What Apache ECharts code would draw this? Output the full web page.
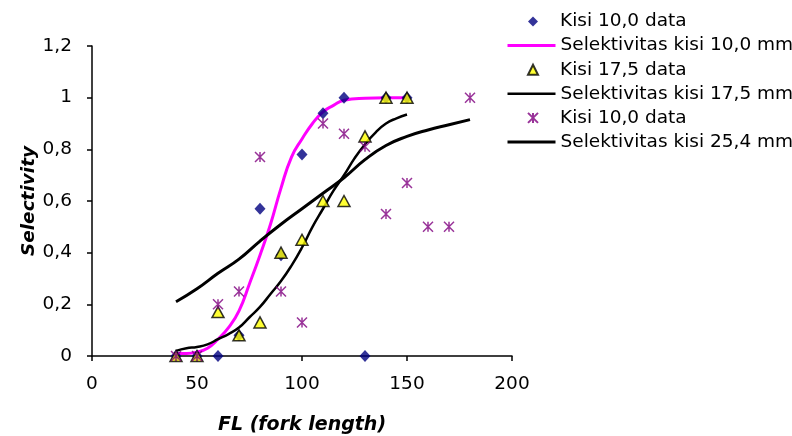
<!DOCTYPE html>
<html>
<head>
<meta charset="utf-8">
<script src="https://cdn.jsdelivr.net/npm/echarts@6/dist/echarts.min.js"></script>
<style>
html,body{margin:0;padding:0;background:#fff;}
#chart{width:792px;height:436px;}
</style>
</head>
<body>
<div id="chart"></div>
<script>
// ---- data ----
const seriesNames = ['Kisi 10,0 data', 'Selektivitas kisi 10,0 mm', 'Kisi 17,5 data', 'Selektivitas kisi 17,5 mm', 'Kisi 10,0 data ', 'Selektivitas kisi 25,4 mm'];

const data10x = [40, 50, 60, 70, 80, 90, 100, 110, 120, 130, 140, 150];
const data10y = [0, 0, 0, 0.08, 0.57, 0.39, 0.78, 0.94, 1.0, 0, 1.0, 1.0];

const data175x = [40, 50, 60, 70, 80, 90, 100, 110, 120, 130, 140, 150];
const data175y = [0, 0, 0.17, 0.08, 0.13, 0.40, 0.45, 0.60, 0.60, 0.85, 1.0, 1.0];

const data254x = [40, 50, 60, 70, 80, 90, 100, 110, 120, 130, 140, 150, 160, 170, 180];
const data254y = [0, 0, 0.20, 0.25, 0.77, 0.25, 0.13, 0.90, 0.86, 0.81, 0.55, 0.67, 0.50, 0.50, 1.0];

const curve10x = [40, 45, 50, 55, 60, 65, 70, 75, 80, 85, 90, 95, 100, 105, 110, 115, 120, 130, 140, 150];
const curve10y = [0.01, 0.01, 0.015, 0.03, 0.065, 0.11, 0.175, 0.28, 0.39, 0.51, 0.65, 0.77, 0.84, 0.90, 0.945, 0.97, 0.99, 0.998, 1.0, 1.0];

const curve175x = [40, 45, 50, 55, 60, 65, 70, 75, 80, 85, 90, 95, 100, 105, 110, 115, 120, 125, 130, 135, 140, 145, 150];
const curve175y = [0.02, 0.03, 0.035, 0.045, 0.065, 0.085, 0.11, 0.15, 0.19, 0.24, 0.29, 0.35, 0.42, 0.50, 0.57, 0.64, 0.70, 0.765, 0.82, 0.865, 0.90, 0.92, 0.935];

const curve254x = [40, 50, 60, 70, 80, 90, 100, 110, 120, 130, 140, 150, 160, 170, 180];
const curve254y = [0.21, 0.26, 0.32, 0.375, 0.445, 0.51, 0.57, 0.63, 0.69, 0.76, 0.815, 0.85, 0.875, 0.895, 0.915];

const xTicks = [0, 50, 100, 150, 200];
const yTickLabels = ['0', '0,2', '0,4', '0,6', '0,8', '1', '1,2'];

// ---- helpers ----
function pairs(xs, ys) { return xs.map((x, i) => [x, ys[i]]); }

const FONT = 'DejaVu Sans';
const axisLineStyle = { color: '#000', width: 1.5 };
const legendText = { fontFamily: FONT, fontSize: 18.5, color: '#000', lineHeight: 20 };

const chart = echarts.init(document.getElementById('chart'), null, { renderer: 'canvas' });
chart.setOption({
  animation: false,
  backgroundColor: '#fff',
  textStyle: { fontFamily: FONT },
  grid: { left: 92, top: 46, width: 420, height: 310, containLabel: false, outerBoundsMode: 'none' },
  legend: [
    {
      orient: 'vertical',
      left: 527,
      top: 11.5,
      padding: 0,
      itemWidth: 10,
      itemHeight: 10,
      itemGap: 28.2,
      selectedMode: false,
      data: [seriesNames[0], seriesNames[2], seriesNames[4]],
      formatter: (n) => n.trim(),
      textStyle: Object.assign({ padding: [0, 0, 0, 17] }, legendText)
    },
    {
      orient: 'vertical',
      left: 506,
      top: 35.6,
      padding: 0,
      itemWidth: 48,
      itemHeight: 10,
      itemGap: 28.2,
      selectedMode: false,
      data: [seriesNames[1], seriesNames[3], seriesNames[5]],
      itemStyle: { opacity: 0 },
      lineStyle: { width: 'inherit' },
      textStyle: legendText
    }
  ],
  xAxis: {
    type: 'value',
    min: xTicks[0],
    max: xTicks[xTicks.length - 1],
    interval: xTicks[1] - xTicks[0],
    axisLine: { show: true, onZero: false, lineStyle: axisLineStyle },
    axisTick: { show: true, length: 5, lineStyle: axisLineStyle },
    splitLine: { show: false },
    axisLabel: { fontFamily: FONT, fontSize: 18.5, color: '#000', margin: 19 },
    name: 'FL (fork length)',
    nameLocation: 'middle',
    nameGap: 60,
    nameMoveOverlap: false,
    nameTextStyle: { fontFamily: FONT, fontSize: 19, fontWeight: 'bold', fontStyle: 'italic', color: '#000' }
  },
  yAxis: {
    type: 'value',
    min: 0,
    max: 1.2,
    interval: 0.2,
    axisLine: { show: true, onZero: false, lineStyle: axisLineStyle },
    axisTick: { show: true, length: 5, lineStyle: axisLineStyle },
    splitLine: { show: false },
    axisLabel: {
      fontFamily: FONT, fontSize: 18.5, color: '#000', margin: 20,
      formatter: (v) => yTickLabels[Math.round(v / 0.2)]
    },
    name: 'Selectivity',
    nameLocation: 'middle',
    nameGap: 53,
    nameMoveOverlap: false,
    nameTextStyle: { fontFamily: FONT, fontSize: 18.5, fontWeight: 'bold', fontStyle: 'italic', color: '#000' }
  },
  series: [
    {
      name: seriesNames[0], type: 'scatter', z: 3,
      symbol: 'diamond', symbolSize: [11, 12],
      itemStyle: { color: '#000080' },
      data: pairs(data10x, data10y)
    },
    {
      name: seriesNames[1], type: 'line', z: 2, smooth: true, symbol: 'none',
      lineStyle: { color: '#FF00FF', width: 3 }, itemStyle: { color: '#FF00FF' },
      data: pairs(curve10x, curve10y)
    },
    {
      name: seriesNames[2], type: 'scatter', z: 4,
      symbol: 'triangle', symbolSize: [12, 11],
      itemStyle: { color: '#FFFF00', borderColor: '#000', borderWidth: 1.5 },
      data: pairs(data175x, data175y)
    },
    {
      name: seriesNames[3], type: 'line', z: 2, smooth: true, symbol: 'none',
      lineStyle: { color: '#000', width: 2.5 }, itemStyle: { color: '#000' },
      data: pairs(curve175x, curve175y)
    },
    {
      name: seriesNames[4], type: 'scatter', z: 5,
      symbol: 'path://M0,0L10,10M10,0L0,10M5,0L5,10', symbolSize: [10, 10],
      itemStyle: { color: '#800080', borderColor: '#800080', borderWidth: 1.5 },
      data: pairs(data254x, data254y)
    },
    {
      name: seriesNames[5], type: 'line', z: 2, smooth: true, symbol: 'none',
      lineStyle: { color: '#000', width: 3 }, itemStyle: { color: '#000' },
      data: pairs(curve254x, curve254y)
    }
  ]
});
</script>
</body>
</html>
